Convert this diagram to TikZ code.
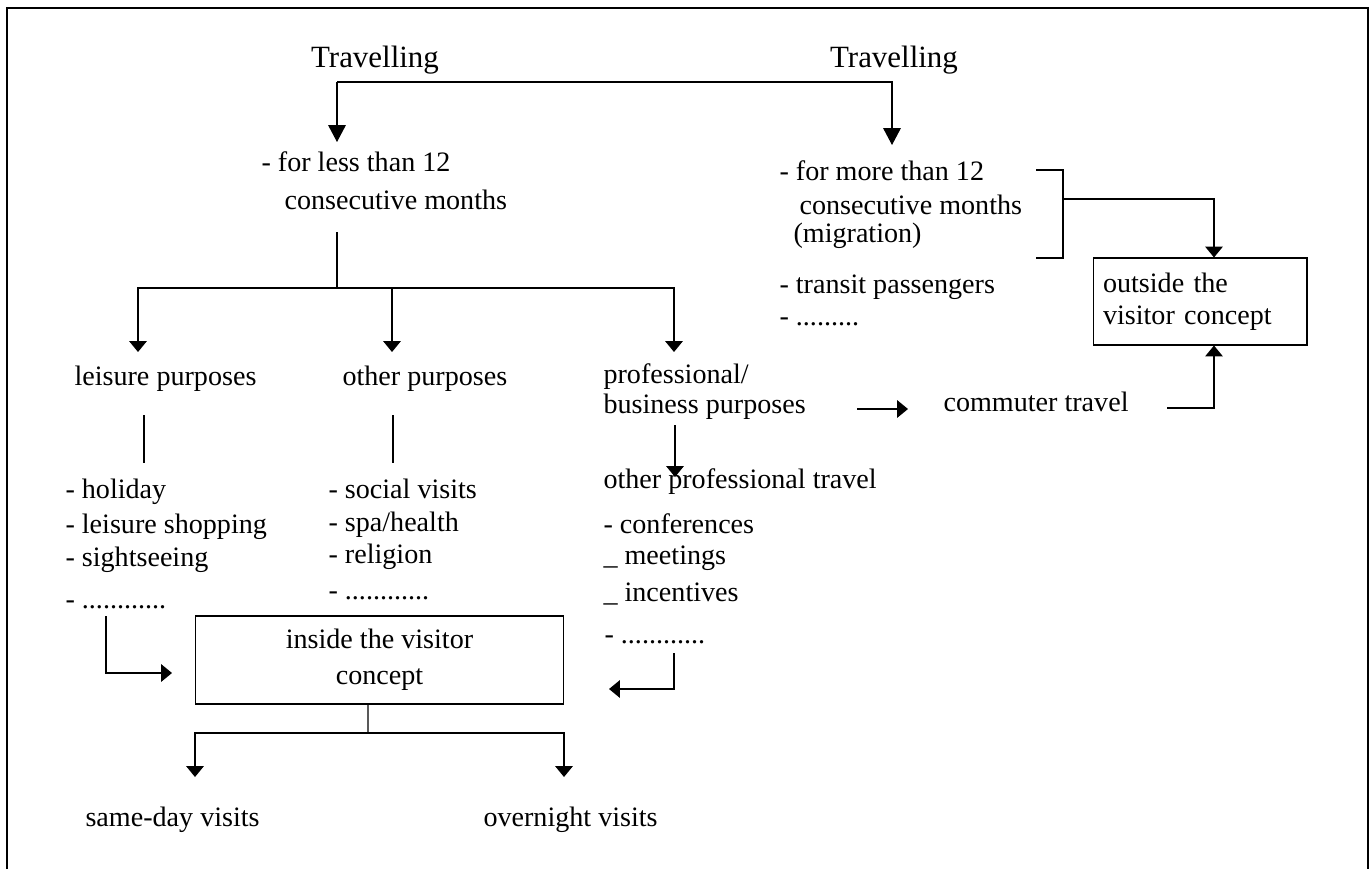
\documentclass[tikz,border=0pt]{standalone}
\usepackage{fontspec}
\setmainfont{Liberation Serif}
\usetikzlibrary{arrows.meta}

\tikzset{
  txt/.style={anchor=west, inner sep=0pt, text height=0.7em, text depth=0.25em},
  box/.style={draw, inner sep=0pt},
  arr/.style={-{Triangle[width=10pt,length=6.2pt]}},
  arrlong/.style={-{Triangle[width=10pt,length=9.6pt]}},
}

\begin{document}
\begin{tikzpicture}[x=0.02cm, y=-0.02cm, line width=0.6pt,
    font=\fontsize{16}{19}\selectfont]
  \useasboundingbox (0,0) rectangle (1372,869);
  \draw (7,869) -- (7,8) -- (1368,8) -- (1368,869);

  % top part
  \node[inner sep=0pt, font=\fontsize{17.6}{20}\selectfont] (trav1) at (375,60) {Travelling};
  \node[inner sep=0pt, font=\fontsize{17.6}{20}\selectfont] (trav2) at (894,60) {Travelling};
  \node[txt] (less1) at (261,168) {- for less than 12};
  \node[txt] (less2) at (284,206) {consecutive months};
  \node[txt] (more1) at (779,177) {- for more than 12};
  \node[txt] (more2) at (799,211) {consecutive months};
  \node[txt] (more3) at (793,239) {(migration)};
  \node[txt] (trans) at (779,290) {- transit passengers};
  \node[txt] (tdots) at (779,322) {- .........};
  \node[box, minimum width=4.28cm, minimum height=1.74cm, text width=3.88cm,
    inner xsep=0.2cm, align=left, font=\fontsize{16}{18.2}\selectfont]
    (outside) at (1200,301.5) {outside the\\visitor concept};

  % purposes
  \node[txt] (leis) at (74,382) {leisure purposes};
  \node[txt] (oth) at (342,382) {other purposes};
  \node[txt] (prof1) at (603,380) {professional/};
  \node[txt] (prof2) at (603,410) {business purposes};
  \node[txt] (comm) at (943,408) {commuter travel};
  \node[txt] (opt) at (603,485) {other professional travel};

  % lists
  \node[txt] (hol1) at (65,495) {- holiday};
  \node[txt] (hol2) at (65,530) {- leisure shopping};
  \node[txt] (hol3) at (65,563) {- sightseeing};
  \node[txt] (hol4) at (65,605) {- ............};
  \node[txt] (soc1) at (328,495) {- social visits};
  \node[txt] (soc2) at (328,528) {- spa/health};
  \node[txt] (soc3) at (328,560) {- religion};
  \node[txt] (soc4) at (328,596) {- ............};
  \node[txt] (conf1) at (603,530) {- conferences};
  \node[txt] (conf2) at (603,561) {\_ meetings};
  \node[txt] (conf3) at (603,598) {\_ incentives};
  \node[txt] (conf4) at (604,640) {- ............};

  % bottom part
  \node[box, minimum width=7.38cm, minimum height=1.76cm, align=center,
    font=\fontsize{16}{20.5}\selectfont]
    (inside) at (379.5,660) {inside the visitor\\concept};
  \node[txt] (same) at (85,823) {same-day visits};
  \node[txt] (over) at (483,823) {overnight visits};

  \coordinate (tl) at (337,82);
  \coordinate (tr) at (892,82);
  \coordinate (tipl) at (337,142);
  \coordinate (tipr) at (892,145);
  \coordinate (stem) at (337,232);
  \coordinate (split) at (337,288);
  \coordinate (bl) at (138,352);
  \coordinate (bm) at (392,352);
  \coordinate (br) at (674,352);
  \coordinate (la) at (144,415);
  \coordinate (lb) at (144,463);
  \coordinate (oa) at (393,415);
  \coordinate (ob) at (393,463);
  \coordinate (pa) at (675,425);
  \coordinate (pb) at (675,477);
  \coordinate (ca) at (857,409);
  \coordinate (cb) at (908,409);
  \coordinate (brkt) at (1063,170);
  \coordinate (brkm) at (1063,199);
  \coordinate (brkb) at (1063,258);
  \coordinate (ld) at (106,616);
  \coordinate (lt) at (172,673);
  \coordinate (rd) at (674,653);
  \coordinate (rt) at (609,689);
  \coordinate (down) at (368,733);
  \coordinate (tsame) at (195,777);
  \coordinate (tover) at (564,777);

  \begin{scope}[-]
    \draw[arrlong] (tl) -- (tipl);
    \draw[arrlong] (tl) -- (tr) -- (tipr);
    \draw (stem) -- (split);
    \draw[arr] (split) -| (bl);
    \draw[arr] (split -| bm) -- (bm);
    \draw[arr] (split) -| (br);
    \draw (la) -- (lb);
    \draw (oa) -- (ob);
    \draw[arr] (pa) -- (pb);
    \draw[arr] (ca) -- (cb);
    \draw[arr] ([xshift=0.76cm]comm.east) -| ([xshift=0.28cm]outside.south);
    \draw ([xshift=-0.54cm]brkt) -- (brkt) -- (brkb) -- ([xshift=-0.54cm]brkb);
    \draw[arr] (brkm) -| ([xshift=0.28cm]outside.north);
    \draw[arr] (ld) |- (lt);
    \draw[arr] (rd) |- (rt);
    \draw ([xshift=-0.23cm]inside.south) -- (down);
    \draw[arr] (down) -| (tsame);
    \draw[arr] (down) -| (tover);
  \end{scope}
\end{tikzpicture}
\end{document}
